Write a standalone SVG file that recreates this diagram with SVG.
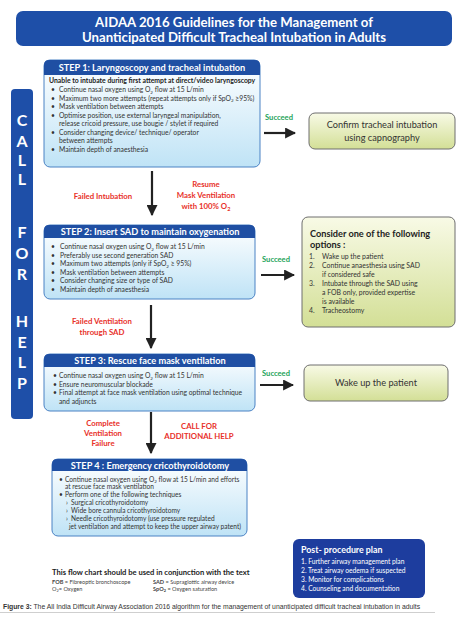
<svg xmlns="http://www.w3.org/2000/svg" width="475" height="633" viewBox="0 0 475 633">
<defs>
<linearGradient id="gBody" x1="0" y1="0" x2="0" y2="1">
<stop offset="0" stop-color="#ffffff"/>
<stop offset="1" stop-color="#bfe3f6"/>
</linearGradient>
<linearGradient id="gGreen" x1="0" y1="0" x2="0" y2="1">
<stop offset="0" stop-color="#f8fae6"/>
<stop offset="1" stop-color="#d3df96"/>
</linearGradient>
<marker id="ah" viewBox="0 0 10 10" refX="9" refY="5" markerWidth="5" markerHeight="5" markerUnits="strokeWidth" orient="auto">
<path d="M0,0 L10,5 L0,10 Z" fill="#222"/>
</marker>
</defs>
<style>
text{font-family:Lato,"Liberation Sans",Arial,sans-serif}
text.cap{font-family:"Liberation Sans",Arial,sans-serif}
.hd{font-weight:bold;fill:#fff;font-size:9.2px}
.bd{fill:#333;font-size:6.75px}
.bd4{fill:#333;font-size:6.6px}
.sub{font-weight:bold;fill:#222;font-size:6.85px}
.body{fill:url(#gBody);stroke:#4a82c4;stroke-width:1}
.hdr{fill:#1f4fa3}
.red{fill:#e8312a;font-weight:bold;font-size:7.8px}
.grn{fill:#1ea35a;font-weight:bold;font-size:7.6px}
.gbox{fill:url(#gGreen);stroke:#6e6e6e;stroke-width:1}
.gt{fill:#333;font-size:9.2px}
.arr{stroke:#222;stroke-width:2.2;fill:none;marker-end:url(#ah)}
.cfh{font-weight:bold;fill:#fff;font-size:16px}
</style>
<rect width="475" height="633" fill="#fff"/>

<g id="title">
<rect x="16" y="11" width="436" height="35" rx="7" fill="#1e4fa8"/>
<text x="234" y="26.5" text-anchor="middle" font-weight="bold" font-size="13.2" fill="#fff">AIDAA 2016 Guidelines for the Management of</text>
<text x="234" y="42" text-anchor="middle" font-weight="bold" font-size="13.2" fill="#fff">Unanticipated Difficult Tracheal Intubation in Adults</text>
</g>

<g id="call-for-help">
<rect x="11" y="89" width="22" height="330" rx="4" fill="#1e4fa8"/>
<g class="cfh" text-anchor="middle">
<text x="22" y="126">C</text>
<text x="22" y="147">A</text>
<text x="22" y="166">L</text>
<text x="22" y="185">L</text>
<text x="22" y="238">F</text>
<text x="22" y="259">O</text>
<text x="22" y="280">R</text>
<text x="22" y="327">H</text>
<text x="22" y="348">E</text>
<text x="22" y="368">L</text>
<text x="22" y="389">P</text>
</g>
</g>

<g id="step1">
<rect class="body" x="44" y="60" width="216" height="107" rx="6"/>
<path class="hdr" d="M44,75 L44,65 Q44,60 49,60 L255,60 Q260,60 260,65 L260,75 Z"/>
<text class="hd" x="152" y="71" text-anchor="middle">STEP 1: Laryngoscopy and tracheal intubation</text>
<text class="sub" x="49" y="83">Unable to intubate during first attempt at direct/video laryngoscopy</text>
<g class="bd">
<text x="51" y="92">•</text><text x="59" y="92">Continue nasal oxygen using O<tspan font-size="4.5" dy="1.5">2</tspan><tspan dy="-1.5"> flow at 15 L/min</tspan></text>
<text x="51" y="100.5">•</text><text x="59" y="100.5">Maximum two more attempts (repeat attempts only if SpO<tspan font-size="4.5" dy="1.5">2</tspan><tspan dy="-1.5"> ≥95%)</tspan></text>
<text x="51" y="109">•</text><text x="59" y="109">Mask ventilation between attempts</text>
<text x="51" y="117.5">•</text><text x="59" y="117.5">Optimise position, use external laryngeal manipulation,</text>
<text x="59" y="126">release cricoid pressure, use bougie / stylet if required</text>
<text x="51" y="134.5">•</text><text x="59" y="134.5">Consider changing device/ technique/ operator</text>
<text x="59" y="143">between attempts</text>
<text x="51" y="152">•</text><text x="59" y="152">Maintain depth of anaesthesia</text>
</g>
</g>

<g id="confirm">
<rect class="gbox" x="309" y="113" width="146" height="36" rx="6"/>
<text class="gt" x="382" y="128" text-anchor="middle">Confirm tracheal intubation</text>
<text class="gt" x="382" y="141" text-anchor="middle">using capnography</text>
</g>

<g id="step2">
<rect class="body" x="44" y="225" width="211" height="74" rx="6"/>
<path class="hdr" d="M44,238 L44,230 Q44,225 49,225 L250,225 Q255,225 255,230 L255,238 Z"/>
<text class="hd" x="150" y="235" text-anchor="middle">STEP 2: Insert SAD to maintain oxygenation</text>
<g class="bd">
<text x="51" y="249">•</text><text x="60" y="249">Continue nasal oxygen using O<tspan font-size="4.5" dy="1.5">2</tspan><tspan dy="-1.5"> flow at 15 L/min</tspan></text>
<text x="51" y="257.5">•</text><text x="60" y="257.5">Preferably use second generation SAD</text>
<text x="51" y="266">•</text><text x="60" y="266">Maximum two attempts (only if SpO<tspan font-size="4.5" dy="1.5">2</tspan><tspan dy="-1.5"> ≥ 95%)</tspan></text>
<text x="51" y="274.5">•</text><text x="60" y="274.5">Mask ventilation between attempts</text>
<text x="51" y="283">•</text><text x="60" y="283">Consider changing size or type of SAD</text>
<text x="51" y="291.5">•</text><text x="60" y="291.5">Maintain depth of anaesthesia</text>
</g>
</g>

<g id="consider">
<rect class="gbox" x="302" y="217" width="153" height="110" rx="6"/>
<text x="310" y="237" font-weight="bold" font-size="9.2" fill="#222">Consider one of the following</text>
<text x="310" y="248" font-weight="bold" font-size="9.2" fill="#222">options :</text>
<g fill="#333" font-size="6.9">
<text x="309" y="259">1.</text><text x="322" y="259">Wake up the patient</text>
<text x="309" y="268">2.</text><text x="322" y="268">Continue anaesthesia using SAD</text>
<text x="322" y="277">if considered safe</text>
<text x="309" y="286">3.</text><text x="322" y="286">Intubate through the SAD using</text>
<text x="322" y="295">a FOB only, provided expertise</text>
<text x="322" y="304">is available</text>
<text x="309" y="313">4.</text><text x="322" y="313">Tracheostomy</text>
</g>
</g>

<g id="step3">
<rect class="body" x="44" y="354" width="211" height="57" rx="6"/>
<path class="hdr" d="M44,367 L44,359 Q44,354 49,354 L250,354 Q255,354 255,359 L255,367 Z"/>
<text class="hd" x="150" y="364" text-anchor="middle">STEP 3: Rescue face mask ventilation</text>
<g class="bd">
<text x="53" y="378">•</text><text x="59" y="378">Continue nasal oxygen using O<tspan font-size="4.5" dy="1.5">2</tspan><tspan dy="-1.5"> flow at 15 L/min</tspan></text>
<text x="53" y="386.5">•</text><text x="59" y="386.5">Ensure neuromuscular blockade</text>
<text x="53" y="395">•</text><text x="59" y="395">Final attempt at face mask ventilation using optimal technique</text>
<text x="59" y="403.5">and adjuncts</text>
</g>
</g>

<g id="wake">
<rect class="gbox" x="304" y="365" width="144" height="36" rx="6"/>
<text class="gt" x="376" y="386" text-anchor="middle">Wake up the patient</text>
</g>

<g id="step4">
<rect class="body" x="52" y="459" width="195" height="77" rx="6"/>
<path class="hdr" d="M52,471 L52,464 Q52,459 57,459 L242,459 Q247,459 247,464 L247,471 Z"/>
<text class="hd" x="150" y="468.5" text-anchor="middle">STEP 4 : Emergency cricothyroidotomy</text>
<g class="bd4">
<text x="59" y="481.5">•</text><text x="65" y="481.5">Continue nasal oxygen using O<tspan font-size="4.5" dy="1.5">2</tspan><tspan dy="-1.5"> flow at 15 L/min and efforts</tspan></text>
<text x="65" y="489">at rescue face mask ventilation</text>
<text x="59" y="497">•</text><text x="65" y="497">Perform one of the following techniques</text>
<text x="66" y="505">›</text><text x="71" y="505">Surgical cricothyroidotomy</text>
<text x="66" y="513">›</text><text x="71" y="513">Wide bore cannula cricothyroidotomy</text>
<text x="66" y="521">›</text><text x="71" y="521">Needle cricothyroidotomy (use pressure regulated</text>
<text x="69" y="529">jet ventilation and attempt to keep the upper airway patent)</text>
</g>
</g>

<g id="post-procedure">
<rect x="293" y="539" width="132" height="59" rx="6" fill="#1d3d9e"/>
<text x="301" y="553" font-weight="bold" font-size="8.8" fill="#fff">Post- procedure plan</text>
<g fill="#fff" font-size="6.7">
<text x="301" y="564">1.  Further airway management plan</text>
<text x="301" y="573">2.  Treat airway oedema if suspected</text>
<text x="301" y="582">3.  Monitor for complications</text>
<text x="301" y="591">4.  Counseling and documentation</text>
</g>
</g>

<g id="connectors">
<line class="arr" x1="264" y1="133" x2="295" y2="133"/>
<line class="arr" x1="261" y1="275" x2="294" y2="275"/>
<line class="arr" x1="260" y1="385" x2="293" y2="385"/>
<line class="arr" x1="152" y1="171" x2="152" y2="215"/>
<line class="arr" x1="151" y1="305" x2="151" y2="348"/>
<line class="arr" x1="151" y1="412" x2="151" y2="453"/>
</g>

<g id="labels">
<text class="grn" x="265" y="120">Succeed</text>
<text class="grn" x="262" y="262">Succeed</text>
<text class="grn" x="262" y="376">Succeed</text>
<text class="red" x="103" y="199" text-anchor="middle">Failed Intubation</text>
<text class="red" x="206" y="187" text-anchor="middle">Resume</text>
<text class="red" x="206" y="198" text-anchor="middle">Mask Ventilation</text>
<text class="red" x="206" y="209" text-anchor="middle">with 100% O<tspan font-size="5.5" dy="1.5">2</tspan></text>
<text class="red" x="102" y="324" text-anchor="middle">Failed Ventilation</text>
<text class="red" x="102" y="335" text-anchor="middle">through SAD</text>
<text class="red" x="103" y="426" text-anchor="middle">Complete</text>
<text class="red" x="103" y="436" text-anchor="middle">Ventilation</text>
<text class="red" x="103" y="446" text-anchor="middle">Failure</text>
<text class="red" x="199" y="429" text-anchor="middle" font-size="7.2">CALL FOR</text>
<text class="red" x="199" y="439" text-anchor="middle" font-size="7.2">ADDITIONAL HELP</text>
</g>

<g id="footer">
<text x="52" y="575" font-weight="bold" font-size="7.6" fill="#222">This flow chart should be used in conjunction with the text</text>
<g font-size="5.6" fill="#444">
<text x="52" y="583.5"><tspan font-weight="bold">FOB</tspan> = Fibreoptic bronchoscope</text>
<text x="52" y="591">O<tspan font-size="3.9" dy="1">2</tspan><tspan dy="-1">= Oxygen</tspan></text>
<text x="153" y="583.5"><tspan font-weight="bold">SAD</tspan> = Supraglottic airway device</text>
<text x="153" y="591"><tspan font-weight="bold">SpO<tspan font-size="3.9" dy="1">2</tspan></tspan><tspan dy="-1"> = Oxygen saturation</tspan></text>
</g>
<line x1="0" y1="612.5" x2="435" y2="612.5" stroke="#cfcfcf" stroke-width="1"/>
<text class="cap" x="3" y="609" font-size="6.8" fill="#333"><tspan font-weight="bold">Figure 3:</tspan> The All India Difficult Airway Association 2016 algorithm for the management of unanticipated difficult tracheal intubation in adults</text>
</g>
</svg>
